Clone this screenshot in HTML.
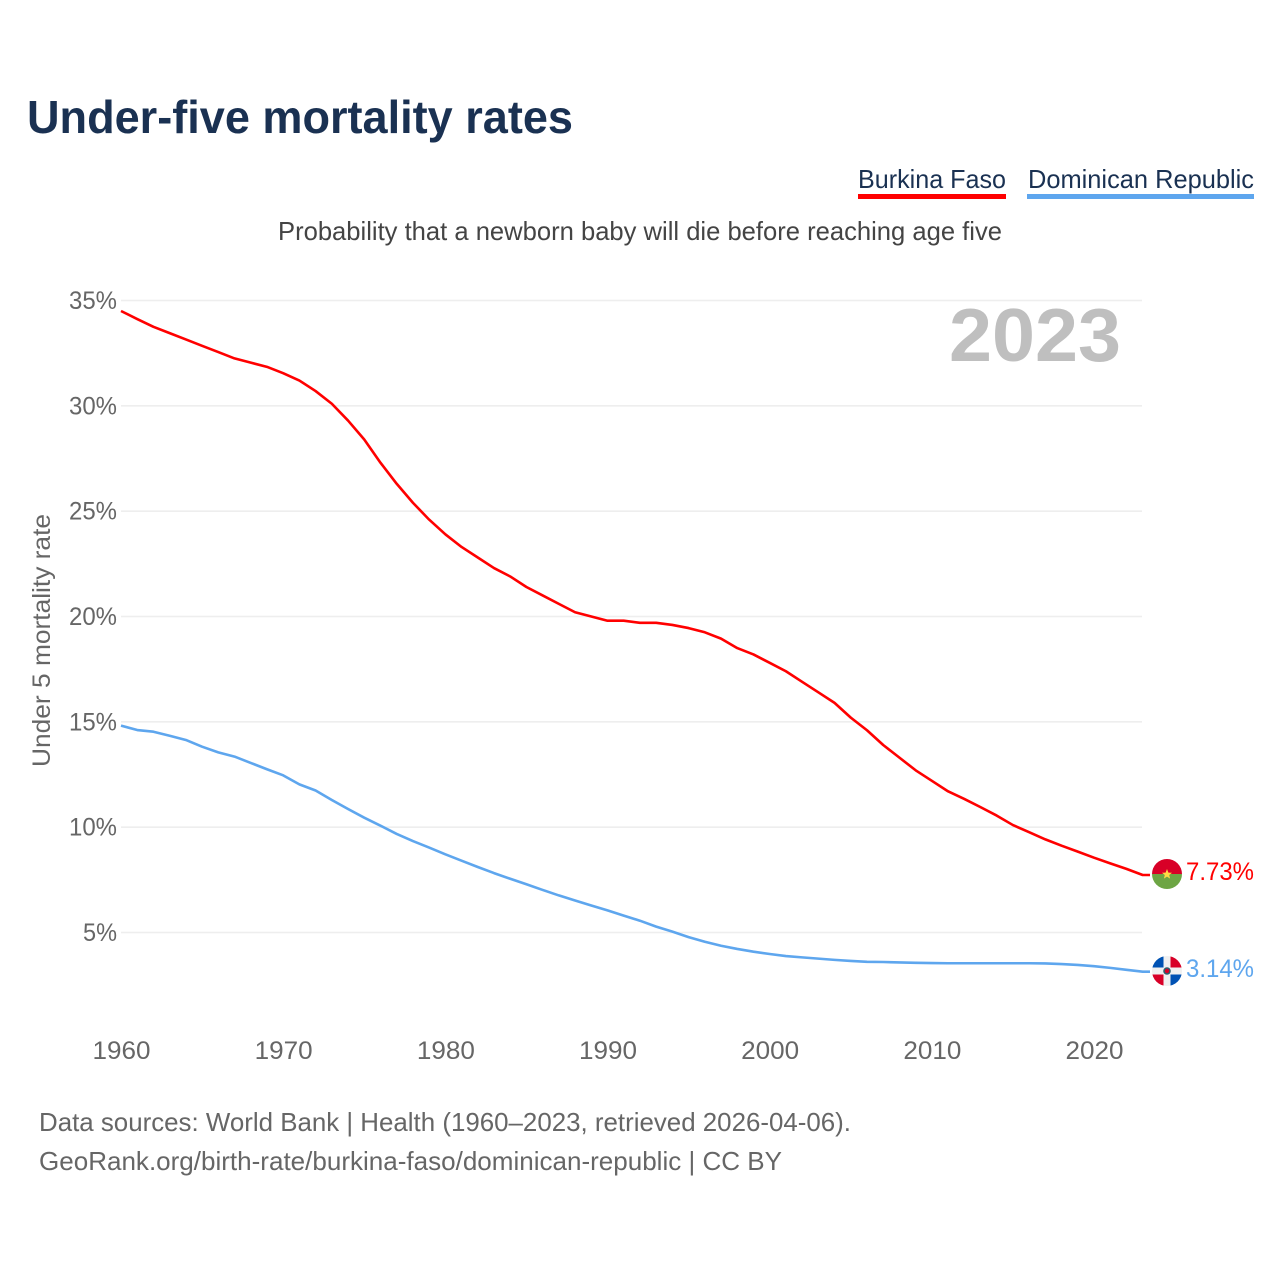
<!DOCTYPE html>
<html lang="en">
<head>
<meta charset="utf-8">
<title>Under-five mortality rates</title>
<style>
html,body{margin:0;padding:0;background:#fff;}
svg{display:block;font-family:"Liberation Sans",sans-serif;}
</style>
</head>
<body>
<svg id="chart" width="1280" height="1280" viewBox="0 0 1280 1280" xmlns="http://www.w3.org/2000/svg">
  <rect width="1280" height="1280" fill="#fff"/>
  <text x="27" y="133" font-size="46" font-weight="700" fill="#1a3152" textLength="546" lengthAdjust="spacingAndGlyphs">Under-five mortality rates</text>
  <text x="858" y="188" font-size="26" fill="#1a3152" textLength="148" lengthAdjust="spacingAndGlyphs">Burkina Faso</text>
  <rect x="858" y="194" width="148" height="5" fill="#ff0000"/>
  <text x="1028" y="188" font-size="26" fill="#1a3152" textLength="226" lengthAdjust="spacingAndGlyphs">Dominican Republic</text>
  <rect x="1027" y="194" width="227" height="5" fill="#5ea6ee"/>
  <text x="278" y="240" font-size="26" fill="#444" textLength="724" lengthAdjust="spacingAndGlyphs">Probability that a newborn baby will die before reaching age five</text>
  <g id="grid"></g>
  <g id="yticks"></g>
  <g id="xticks"></g>
  <text transform="translate(50,640.5) rotate(-90)" text-anchor="middle" font-size="25" fill="#666" textLength="253" lengthAdjust="spacingAndGlyphs">Under 5 mortality rate</text>
  <text x="949" y="361" font-size="75" font-weight="700" fill="#bfbfbf" textLength="172" lengthAdjust="spacingAndGlyphs">2023</text>
  <g id="series"></g>

  <defs>
    <clipPath id="clip-bf"><circle cx="1167" cy="874" r="15"/></clipPath>
    <clipPath id="clip-do"><circle cx="1167" cy="971" r="15"/></clipPath>
  </defs>
  <g clip-path="url(#clip-bf)">
    <rect x="1152" y="859" width="30" height="15" fill="#d80027"/>
    <rect x="1152" y="874" width="30" height="15" fill="#6da544"/>
    <polygon points="1167,869 1168.4,872.6 1172,872.8 1169.2,875 1170.1,878.6 1167,876.6 1163.9,878.6 1164.8,875 1162,872.8 1165.6,872.6" fill="#ffda44"/>
  </g>
  <g clip-path="url(#clip-do)">
    <rect x="1152" y="956" width="30" height="30" fill="#f0f0f0"/>
    <rect x="1152" y="956" width="11.5" height="11.5" fill="#0052b4"/>
    <rect x="1170.5" y="956" width="11.5" height="11.5" fill="#d80027"/>
    <rect x="1152" y="974.5" width="11.5" height="11.5" fill="#d80027"/>
    <rect x="1170.5" y="974.5" width="11.5" height="11.5" fill="#0052b4"/>
    <circle cx="1167" cy="971" r="3.8" fill="#2d5f6e"/>
    <circle cx="1167" cy="971" r="2.2" fill="#d80027"/>
  </g>
  <text id="label-bf" x="1186" y="880" font-size="25" fill="#ff0000" textLength="68" lengthAdjust="spacingAndGlyphs">7.73%</text>
  <text id="label-do" x="1186" y="977" font-size="25" fill="#5ea6ee" textLength="68" lengthAdjust="spacingAndGlyphs">3.14%</text>

  <text x="39" y="1131" font-size="26" fill="#666" textLength="812" lengthAdjust="spacingAndGlyphs">Data sources: World Bank | Health (1960–2023, retrieved 2026-04-06).</text>
  <text x="39" y="1170" font-size="26" fill="#666" textLength="743" lengthAdjust="spacingAndGlyphs">GeoRank.org/birth-rate/burkina-faso/dominican-republic | CC BY</text>
</svg>
<script>
const startYear = 1960;
const burkinaFaso = [34.5,34.12,33.75,33.45,33.15,32.85,32.55,32.25,32.05,31.85,31.55,31.2,30.7,30.1,29.3,28.4,27.3,26.3,25.4,24.6,23.9,23.3,22.8,22.3,21.9,21.4,21.0,20.6,20.2,20.0,19.8,19.8,19.7,19.7,19.6,19.45,19.25,18.95,18.5,18.2,17.8,17.4,16.9,16.4,15.9,15.2,14.6,13.9,13.3,12.7,12.2,11.7,11.34,10.95,10.55,10.1,9.76,9.42,9.12,8.84,8.55,8.28,8.02,7.73];
const dominicanRepublic = [14.82,14.61,14.53,14.34,14.14,13.82,13.55,13.35,13.05,12.75,12.46,12.03,11.74,11.29,10.86,10.45,10.07,9.68,9.34,9.03,8.71,8.41,8.11,7.82,7.55,7.29,7.02,6.76,6.52,6.28,6.05,5.8,5.56,5.28,5.04,4.78,4.56,4.37,4.22,4.09,3.98,3.88,3.82,3.76,3.7,3.65,3.61,3.6,3.58,3.56,3.55,3.54,3.54,3.54,3.54,3.54,3.54,3.53,3.5,3.46,3.4,3.32,3.23,3.14];
const yTickValues = [5,10,15,20,25,30,35];
const xTickValues = [1960,1970,1980,1990,2000,2010,2020];

const NS = 'http://www.w3.org/2000/svg';
function xScale(year){ return 121 + (year - 1960) * 16.217; }
function yScale(v){ return 932.5 - (v - 5) * 21.067; }
function make(tag, attrs){
  const el = document.createElementNS(NS, tag);
  for (const k in attrs) el.setAttribute(k, attrs[k]);
  return el;
}
const grid = document.getElementById('grid');
const yticks = document.getElementById('yticks');
const xticks = document.getElementById('xticks');
const series = document.getElementById('series');

yTickValues.forEach(function(v){
  const line = make('line', {x1:121, x2:1142, y1:yScale(v), y2:yScale(v), stroke:'#eeeeee', 'stroke-width':1.6});
  
  
  grid.appendChild(line);
  const label = v + '%';
  const t = make('text', {x:117, y:yScale(v)+8.5, 'text-anchor':'end', 'font-size':25, fill:'#666', textLength:label.length === 2 ? 34 : 48, lengthAdjust:'spacingAndGlyphs'});
  
  
  t.textContent = label;
  yticks.appendChild(t);
});
xTickValues.forEach(function(y){
  const t = make('text', {x:xScale(y)+0.5, y:1059, 'text-anchor':'middle', 'font-size':25, fill:'#666', textLength:58, lengthAdjust:'spacingAndGlyphs'});
  
  
  t.textContent = y;
  xticks.appendChild(t);
});
function drawSeries(values, color){
  const pts = values.map(function(v,i){ return xScale(startYear+i).toFixed(2)+','+yScale(v).toFixed(2); });
  const last = values[values.length-1];
  pts.push('1150,'+yScale(last).toFixed(2));
  const p = make('polyline', {points:pts.join(' '), fill:'none', stroke:color, 'stroke-width':2.6, 'stroke-linejoin':'round'});
  return p;
}
const redLine = drawSeries(burkinaFaso, '#ff0000');


series.appendChild(redLine);
const blueLine = drawSeries(dominicanRepublic, '#5ea6ee');


series.appendChild(blueLine);
</script>
</body>
</html>
